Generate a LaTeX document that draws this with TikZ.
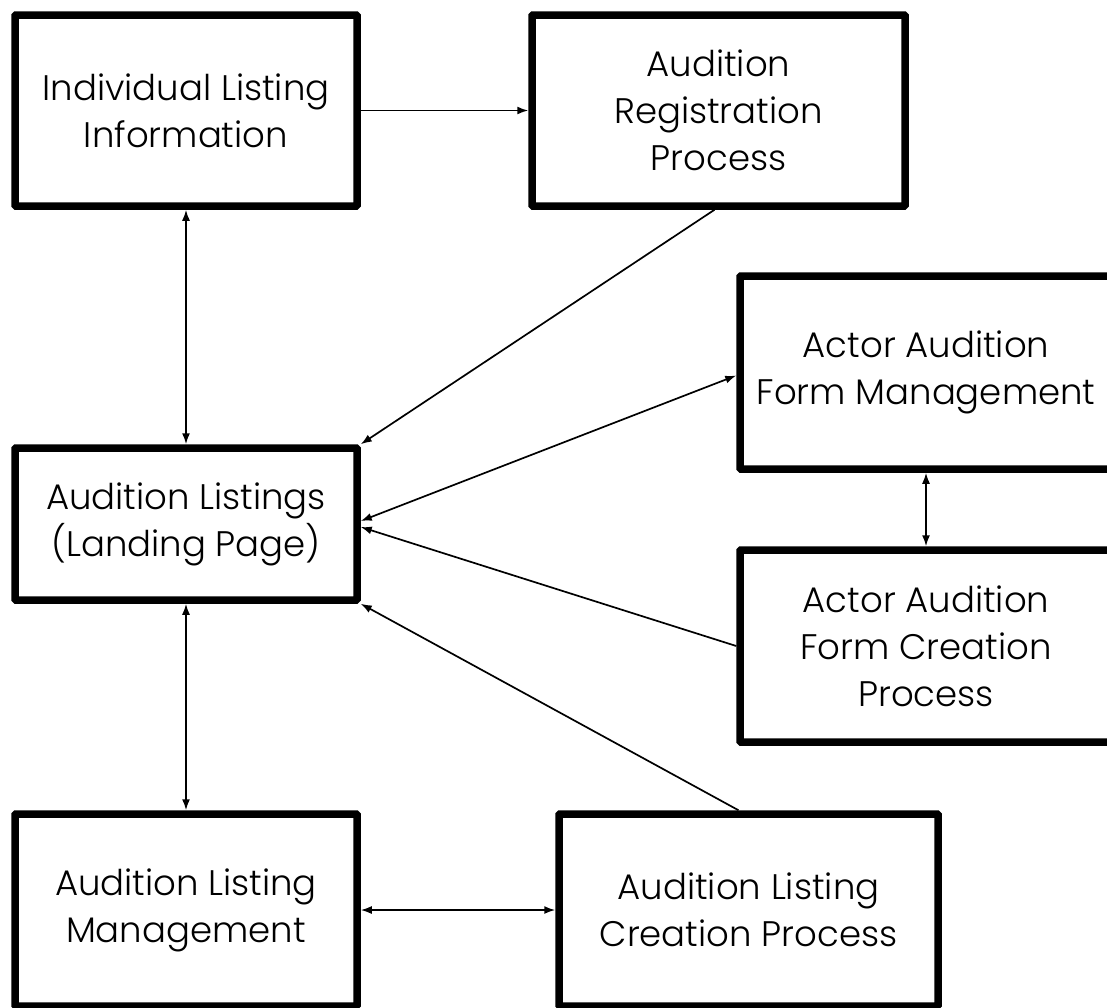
\documentclass[tikz,border=0pt]{standalone}
\usepackage{fontspec}
\setmainfont{Poppins}[UprightFont=* Light]
\usetikzlibrary{arrows.meta}
\begin{document}
\begin{tikzpicture}[x=1pt,y=-1pt,
  box/.style={draw=black, line width=7.5pt, fill=white, rounded corners=1pt, align=center,
    inner sep=0pt, font=\fontsize{35.5}{47}\selectfont},
  conn/.style={line width=1.7pt, -{Latex[length=11pt,width=8pt]}},
  dconn/.style={line width=1.7pt, {Latex[length=11pt,width=8pt]}-{Latex[length=11pt,width=8pt]}}]
\useasboundingbox (0,0) rectangle (1107,1007);
\clip (0,0) rectangle (1107,1007);
\fill[white] (0,0) rectangle (1107,1007);
\node[box, minimum width=342pt, minimum height=191pt] (ili) at (186,110.5) {Individual Listing\\Information};
\node[box, minimum width=373pt, minimum height=191pt] (reg) at (718.5,110.5) {Audition\\Registration\\Process};
\node[box, minimum width=372pt, minimum height=193pt] (fmg) at (926,372.5) {Actor Audition\\Form Management};
\node[box, minimum width=342pt, minimum height=152pt] (land) at (186,524) {Audition Listings\\(Landing Page)};
\node[box, minimum width=372pt, minimum height=192pt] (fcr) at (926,646) {Actor Audition\\Form Creation\\Process};
\node[box, minimum width=342pt, minimum height=192pt] (mgmt) at (186,910) {Audition Listing\\Management};
\node[box, minimum width=379pt, minimum height=192pt] (cre) at (748.5,910) {Audition Listing\\Creation Process};
\draw[conn] (ili.east) -- (reg.west);
\draw[dconn] (ili.south) -- (land.north);
\draw[conn] ([xshift=-4pt]reg.south) -- (land.north east);
\draw[dconn] ([yshift=-3pt]fmg.west) -- ([yshift=3pt]land.east);
\draw[conn] (fcr.west) -- ([yshift=-3pt]land.east);
\draw[dconn] (fmg.south) -- (fcr.north);
\draw[dconn] (land.south) -- (mgmt.north);
\draw[conn] ([xshift=-10pt]cre.north) -- (land.south east);
\draw[dconn] (mgmt.east) -- (cre.west);
\end{tikzpicture}
\end{document}
